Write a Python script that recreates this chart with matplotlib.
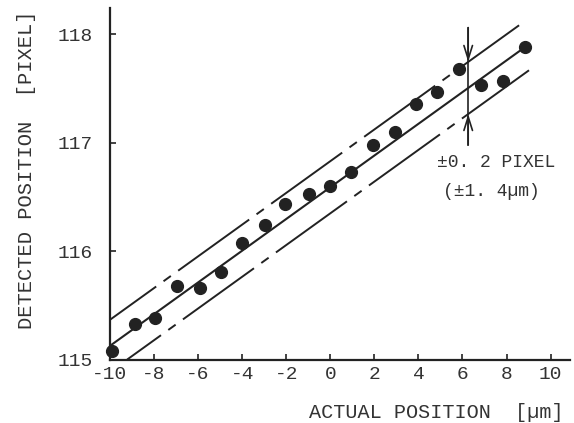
import matplotlib.pyplot as plt

plt.rcParams['font.family'] = ['Liberation Mono', 'DejaVu Sans Mono']
plt.rcParams['axes.unicode_minus'] = False
plt.rcParams['lines.scale_dashes'] = False

ink = '#222222'
txt = '#333333'

# measured points
actual = [-9.93, -8.87, -7.94, -6.95, -5.93, -4.96, -4.00, -2.98, -2.04, -0.98,
          -0.03, 0.94, 1.94, 2.92, 3.89, 4.84, 5.85, 6.85, 7.86, 8.84]
detected = [115.08, 115.33, 115.39, 115.68, 115.66, 115.81, 116.08, 116.24, 116.44, 116.53,
            116.60, 116.73, 116.98, 117.10, 117.36, 117.47, 117.68, 117.53, 117.57, 117.88]

# fitted line and tolerance band
intercept = 116.59
slope = 0.146
band = 0.24
center_x = [-10.0, 8.84]
upper_x = [-10.0, 8.57]
lower_x = [-9.22, 9.02]

# annotation of the band width
ann_x = 6.26
ann_top = 118.06
ann_bottom = 116.98
ann_text1 = '±0. 2 PIXEL'
ann_text2 = '(±1. 4µm)'

xticks = [-10, -8, -6, -4, -2, 0, 2, 4, 6, 8, 10]
yticks = [115, 116, 117, 118]


def fit(xs, off=0.0):
    return [intercept + slope * x + off for x in xs]


fig = plt.figure(figsize=(5.74, 4.23), dpi=100)
ax = fig.add_axes([0.1916, 0.149, 0.8014, 0.832])

ax.plot(center_x, fit(center_x), color=ink, lw=1.5, solid_capstyle='butt')
ax.plot(upper_x, fit(upper_x, band), color=ink, lw=1.4,
        linestyle=(22, (63, 6.5, 6.5, 6.5)))
ax.plot(lower_x, fit(lower_x, -band), color=ink, lw=1.4,
        linestyle=(33, (63, 6.5, 6.5, 6.5)))

ax.plot(actual, detected, 'o', color=ink, ms=8.5, clip_on=False, zorder=5)

# band annotation
ax.plot([ann_x, ann_x], [ann_top, ann_bottom], color=ink, lw=1.2)
up_y = fit([ann_x], band)[0]
lo_y = fit([ann_x], -band)[0]
ax.annotate('', xy=(ann_x, up_y), xytext=(ann_x, ann_top),
            arrowprops=dict(arrowstyle='->,head_length=0.7,head_width=0.22',
                            color=ink, lw=1.2, shrinkA=0, shrinkB=0, mutation_scale=14))
ax.annotate('', xy=(ann_x, lo_y), xytext=(ann_x, ann_bottom),
            arrowprops=dict(arrowstyle='->,head_length=0.7,head_width=0.22',
                            color=ink, lw=1.2, shrinkA=0, shrinkB=0, mutation_scale=14))
ax.text(4.85, 116.82, ann_text1, fontsize=13, color=txt, va='center', ha='left')
ax.text(5.12, 116.55, ann_text2, fontsize=13, color=txt, va='center', ha='left')

ax.set_xlim(-10, 10.88)
ax.set_ylim(115, 118.24)
ax.set_xticks(xticks)
ax.set_yticks(yticks)
ax.set_xticklabels([str(t) for t in xticks])
ax.set_yticklabels([str(t) for t in yticks])

for s in ['top', 'right']:
    ax.spines[s].set_visible(False)
for s in ['left', 'bottom']:
    ax.spines[s].set_linewidth(1.6)
    ax.spines[s].set_color(ink)

ax.tick_params(direction='in', length=4, width=1.2, color=ink, labelsize=14, labelcolor=txt)
ax.tick_params(axis='x', pad=4)
ax.tick_params(axis='y', pad=12)

ax.set_xlabel('ACTUAL POSITION  [µm]', fontsize=14.5, color=txt)
ax.xaxis.set_label_coords(0.709, -0.122)
ax.set_ylabel('DETECTED POSITION  [PIXEL]', fontsize=14.7, color=txt)
ax.yaxis.set_label_coords(-0.16, 0.54)

fig.savefig('out.png', dpi=100)
